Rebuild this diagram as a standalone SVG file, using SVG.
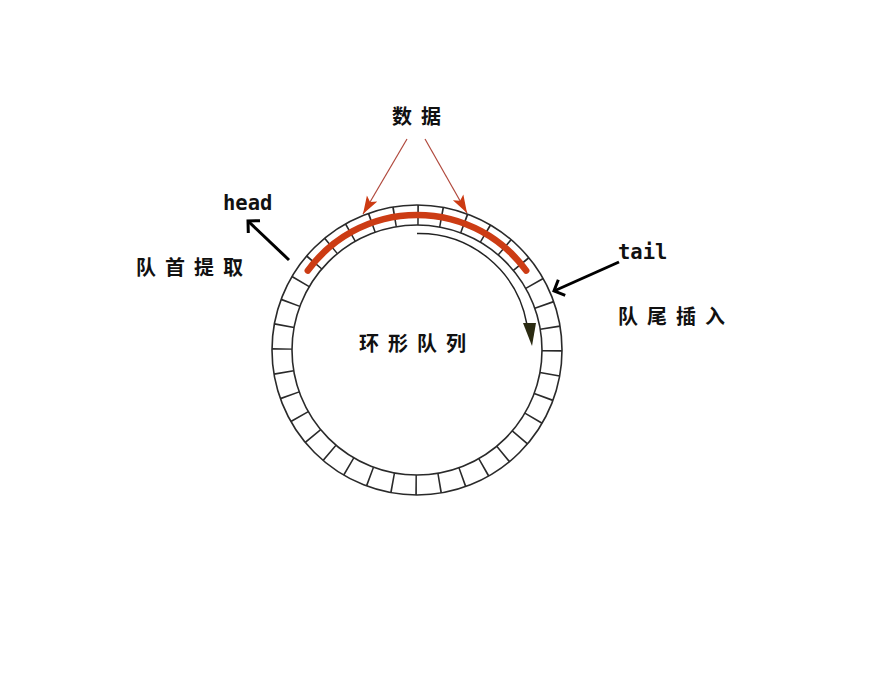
<svg xmlns="http://www.w3.org/2000/svg" width="896" height="674" viewBox="0 0 896 674">
<style>
.ring{fill:none;stroke:#2a2a2a;stroke-width:1.6}
.div{fill:none;stroke:#2a2a2a;stroke-width:20;stroke-dasharray:1.6 21.962}
.cjk{font-family:"Noto Sans CJK SC","Noto Sans",sans-serif;font-weight:700;font-size:20px;letter-spacing:9px;fill:#111}
.lbl{font-family:"DejaVu Sans Mono","Liberation Mono",monospace;font-weight:700;font-size:20.5px;fill:#111}
.red{stroke:#b0483c;stroke-width:1.2;fill:none}
.blk{stroke:#000;stroke-width:3;fill:none}
</style>
<defs>
<marker id="redHead" markerUnits="userSpaceOnUse" markerWidth="20" markerHeight="14" viewBox="0 0 20 14" refX="18" refY="7" orient="auto">
<path d="M0,1 L18,7 L0,13 L4,7 z" fill="#cc3a12"/>
</marker>
<marker id="chev" markerUnits="userSpaceOnUse" markerWidth="16" markerHeight="24" viewBox="-3 -12 16 24" refX="8.5" refY="0" orient="auto">
<path d="M0,-8.5 L8.5,0 L0,8.5" fill="none" stroke="#000" stroke-width="3"/>
</marker>
</defs>
<rect width="896" height="674" fill="#fff"/>

<g id="ring-queue">
<circle class="ring" cx="417" cy="350" r="145"/>
<circle class="ring" cx="417" cy="350" r="125"/>
<circle class="div" cx="417" cy="350" r="135"/>
</g>

<g id="data-arc">
<path d="M307.8,270.6 A135,135 0 0 1 526.2,270.6" fill="none" stroke="#cc3c14" stroke-width="6.5" stroke-linecap="round"/>
</g>

<g id="direction-arc">
<path d="M417,233.5 A109.5,109.5 0 0 1 526.7,323.4" fill="none" stroke="#222" stroke-width="1.5"/>
<polygon points="523,323 536,323 532,346" fill="#2b2b12"/>
</g>

<g id="connectors">
<line class="red" x1="407" y1="139" x2="363" y2="214" marker-end="url(#redHead)"/>
<line class="red" x1="425" y1="139" x2="467" y2="213" marker-end="url(#redHead)"/>
<line class="blk" x1="289" y1="260" x2="248" y2="221" marker-end="url(#chev)"/>
<line class="blk" x1="619" y1="262" x2="554" y2="291" marker-end="url(#chev)"/>
</g>

<g id="label-data"><text class="cjk" x="392" y="124">数据</text></g>
<g id="label-head"><text class="lbl" x="223" y="210">head</text></g>
<g id="label-dequeue"><text class="cjk" x="136" y="275">队首提取</text></g>
<g id="label-tail"><text class="lbl" x="618" y="259">tail</text></g>
<g id="label-enqueue"><text class="cjk" x="618" y="324">队尾插入</text></g>
<g id="label-ring"><text class="cjk" x="359" y="351">环形队列</text></g>
</svg>
